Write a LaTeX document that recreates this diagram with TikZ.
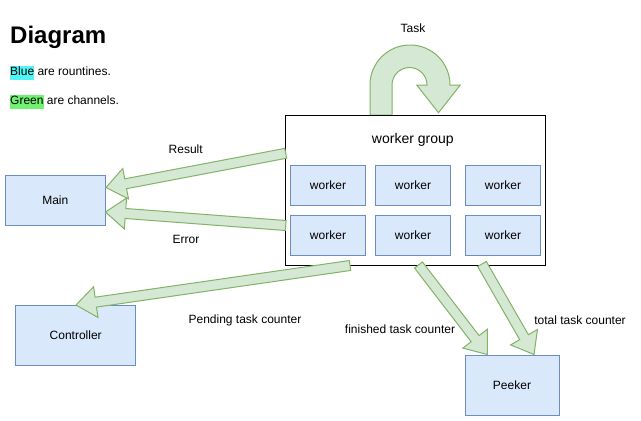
\documentclass[tikz,border=0pt]{standalone}
\usepackage{fontspec}
\setmainfont{Liberation Sans}
\usetikzlibrary{calc}
\definecolor{blueF}{HTML}{DAE8FC}
\definecolor{blueS}{HTML}{6C8EBF}
\definecolor{greenF}{HTML}{D5E8D4}
\definecolor{greenS}{HTML}{82B366}
\definecolor{hlblue}{RGB}{80,245,245}
\definecolor{hlgreen}{RGB}{112,242,112}
\tikzset{
  blk/.style={draw=blueS, fill=blueF, line width=1pt, inner sep=0pt, font=\fontsize{12}{14}\selectfont},
  grp/.style={draw=black, fill=white, line width=1pt, inner sep=0pt},
  lbl/.style={inner sep=0pt, font=\fontsize{12}{14}\selectfont},
  flex/.style={draw=greenS, fill=greenF, line width=1pt, line join=miter},
}
% tail, tip, head length, half shaft width, half head width
\newcommand\flexarr[5]{%
  \path ($(#2)!#3!(#1)$) coordinate (fxH);
  \draw[flex] ($(#1)!#4!90:(#2)$) -- ($(fxH)!#4!-90:(#1)$) -- ($(fxH)!#5!-90:(#1)$)
    -- (#2) -- ($(fxH)!#5!90:(#1)$) -- ($(fxH)!#4!90:(#1)$) -- ($(#1)!#4!-90:(#2)$) -- cycle;
}
\begin{document}
\begin{tikzpicture}[x=1pt,y=-1pt]
\useasboundingbox (0,0) rectangle (641,421);
\fill[white] (0,0) rectangle (641,421);

% title and legend
\node[lbl, anchor=base west, font=\fontsize{24}{28}\selectfont\bfseries] (title) at (10,43.3) {Diagram};
\node[lbl, anchor=west] (leg1) at (10,73) {{\fboxsep=0pt\colorbox{hlblue}{\strut Blue}} are rountines.};
\node[lbl, anchor=west] (leg2) at (10,101.5) {{\fboxsep=0pt\colorbox{hlgreen}{\strut Green}} are channels.};

% Task loop arrow
\draw[flex] (370,115) -- (370,85) arc[start angle=180, end angle=0, radius=40pt]
  -- (460.3,85) -- (438.5,112.7) -- (416.7,85) -- (427,85)
  arc[start angle=0, end angle=180, radius=17.5pt] -- (392,115) -- cycle;
\node[lbl] (task) at (413,28) {Task};

% boxes
\node[blk, minimum width=100pt, minimum height=50pt] (main) at (55.3,200.3) {Main};
\node[blk, minimum width=120pt, minimum height=60pt] (ctrl) at (75.7,335.2) {Controller};
\node[blk, minimum width=94pt, minimum height=60pt] (peek) at (512,385.3) {Peeker};
\node[grp, minimum width=260.4pt, minimum height=150pt] (grp) at (415.5,190.7) {};
\node[lbl, font=\fontsize{14}{16}\selectfont] (grplbl) at (412.8,140) {worker group};

\node[blk, minimum width=75pt, minimum height=40pt] (w11) at (328,185.3) {worker};
\node[blk, minimum width=75pt, minimum height=40pt] (w12) at (413,185.3) {worker};
\node[blk, minimum width=75pt, minimum height=40pt] (w13) at (503,185.3) {worker};
\node[blk, minimum width=75pt, minimum height=40pt] (w21) at (328,235.3) {worker};
\node[blk, minimum width=75pt, minimum height=40pt] (w22) at (413,235.3) {worker};
\node[blk, minimum width=75pt, minimum height=40pt] (w23) at (503,235.3) {worker};

% connector end points
\coordinate (resT) at (285.7,153.3);
\coordinate (resH) at (106,187.5);
\coordinate (errT) at (285.7,225.5);
\coordinate (errH) at (105.5,212);
\coordinate (penT) at (350,265.5);
\coordinate (penH) at (76,305);
\coordinate (finT) at (418.5,265);
\coordinate (finH) at (487.3,354.5);
\coordinate (totT) at (482,264);
\coordinate (totH) at (534,354.5);

\flexarr{resT}{resH}{20pt}{5pt}{15.5pt}
\flexarr{errT}{errH}{20pt}{5pt}{15.5pt}
\flexarr{penT}{penH}{20pt}{5pt}{15.5pt}
\flexarr{finT}{finH}{20pt}{5pt}{15.5pt}
\flexarr{totT}{totH}{20pt}{5pt}{15.5pt}

% labels
\node[lbl] (lres) at (185.7,149.5) {Result};
\node[lbl] (lerr) at (186,239.5) {Error};
\node[lbl] (lpen) at (245,320) {Pending task counter};
\node[lbl] (lfin) at (400,329.5) {finished task counter};
\node[lbl] (ltot) at (580,320) {total task counter};
\end{tikzpicture}
\end{document}
